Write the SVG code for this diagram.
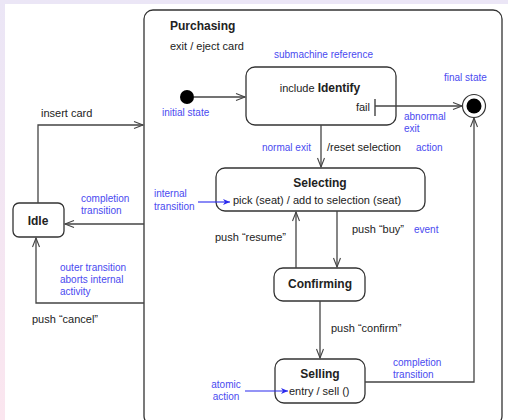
<svg xmlns="http://www.w3.org/2000/svg" width="508" height="420" viewBox="0 0 508 420">
<defs>
<linearGradient id="bg" x1="0" y1="0" x2="0" y2="1">
<stop offset="0" stop-color="#ebe6f6"/>
<stop offset="1" stop-color="#fbe6ef"/>
</linearGradient>
<marker id="open" markerUnits="userSpaceOnUse" markerWidth="12" markerHeight="10" refX="10" refY="4" orient="auto">
<path d="M1,0.5 L10,4 L1,7.5" fill="none" stroke="#444" stroke-width="1.1"/>
</marker>
<marker id="blue" markerUnits="userSpaceOnUse" markerWidth="10" markerHeight="8" refX="7" refY="3" orient="auto">
<path d="M0,0 L7,3 L0,6 L2,3 Z" fill="#2a2aee"/>
</marker>
<style>
.st{fill:#fff;stroke:#333;stroke-width:1.3}
.ln{fill:none;stroke:#444;stroke-width:1.3;marker-end:url(#open)}
.bl{fill:none;stroke:#2a2aee;stroke-width:1.1;marker-end:url(#blue)}
text{font-family:"Liberation Sans",Arial,sans-serif;font-size:11px;fill:#222}
.b{font-weight:bold;font-size:12px}
.n{fill:#4a4af0;font-size:10px}
.m{text-anchor:middle}
</style>
</defs>
<rect width="508" height="420" fill="url(#bg)"/>
<rect x="5" y="4" width="503" height="416" fill="#fff"/>

<g id="purchasing">
<rect class="st" x="144" y="10" width="358" height="415" rx="9" stroke="#555"/>
<text class="b" x="170" y="30">Purchasing</text>
<text x="170" y="50">exit / eject card</text>
</g>

<g id="initial">
<circle cx="187" cy="97" r="7" fill="#000"/>
<text class="n" x="162" y="116">initial state</text>
</g>

<g id="identify">
<rect class="st" x="246" y="67" width="150" height="58" rx="9"/>
<text class="m" x="320" y="92">include <tspan font-weight="bold" font-size="12px">Identify</tspan></text>
<text x="370" y="111" text-anchor="end">fail</text>
<line x1="375" y1="99" x2="375" y2="116" stroke="#333" stroke-width="1.3"/>
<text class="n" x="274" y="58">submachine reference</text>
</g>

<g id="final">
<circle cx="474" cy="106" r="11.5" fill="#fff" stroke="#333" stroke-width="1.2"/>
<circle cx="474" cy="106" r="7.5" fill="#000"/>
<text class="n" x="444" y="81">final state</text>
</g>

<g id="selecting">
<rect class="st" x="216" y="168" width="209" height="43" rx="9"/>
<text class="b m" x="320" y="187">Selecting</text>
<text x="233" y="204">pick (seat) / add to selection (seat)</text>
</g>

<g id="confirming">
<rect class="st" x="274" y="268" width="91" height="33" rx="9"/>
<text class="b m" x="320" y="288">Confirming</text>
</g>

<g id="selling">
<rect class="st" x="275" y="359" width="90" height="44" rx="9"/>
<text class="b m" x="320" y="378">Selling</text>
<text x="289" y="395">entry / sell ()</text>
</g>

<g id="idle">
<rect class="st" x="13" y="203" width="51" height="34" rx="6"/>
<text class="b m" x="38" y="225">Idle</text>
</g>

<g id="connectors">
<line class="ln" x1="194" y1="97" x2="245" y2="97"/>
<line class="ln" x1="375" y1="106" x2="462" y2="106"/>
<line class="ln" x1="321" y1="125" x2="321" y2="167"/>
<line class="ln" x1="296" y1="268" x2="296" y2="212"/>
<line class="ln" x1="337" y1="211" x2="337" y2="267"/>
<line class="ln" x1="320" y1="301" x2="320" y2="358"/>
<polyline class="ln" points="365,382 474,382 474,118"/>
<polyline class="ln" points="38,203 38,125 143,125"/>
<line class="ln" x1="144" y1="224" x2="65" y2="224"/>
<polyline class="ln" points="144,303 36,303 36,238"/>
<line class="bl" x1="198" y1="202" x2="230" y2="202"/>
<line class="bl" x1="245" y1="391" x2="288" y2="391"/>
</g>

<g id="labels">
<text class="n" x="404" y="120">abnormal</text>
<text class="n" x="404" y="132">exit</text>
<text class="n" x="416" y="151">action</text>
<text class="n" x="262" y="151">normal exit</text>
<text x="327" y="151">/reset selection</text>
<text class="n" x="154" y="197">internal</text>
<text class="n" x="154" y="210">transition</text>
<text x="215" y="241">push “resume”</text>
<text x="352" y="233">push “buy”</text>
<text class="n" x="414" y="233">event</text>
<text x="331" y="332">push “confirm”</text>
<text class="n" x="393" y="366">completion</text>
<text class="n" x="393" y="378">transition</text>
<text class="n m" x="226" y="388">atomic</text>
<text class="n m" x="226" y="400">action</text>
<text x="41" y="117">insert card</text>
<text class="n" x="81" y="202">completion</text>
<text class="n" x="81" y="214">transition</text>
<text class="n" x="60" y="271">outer transition</text>
<text class="n" x="60" y="283">aborts internal</text>
<text class="n" x="60" y="295">activity</text>
<text x="32" y="323">push “cancel”</text>
</g>
</svg>
